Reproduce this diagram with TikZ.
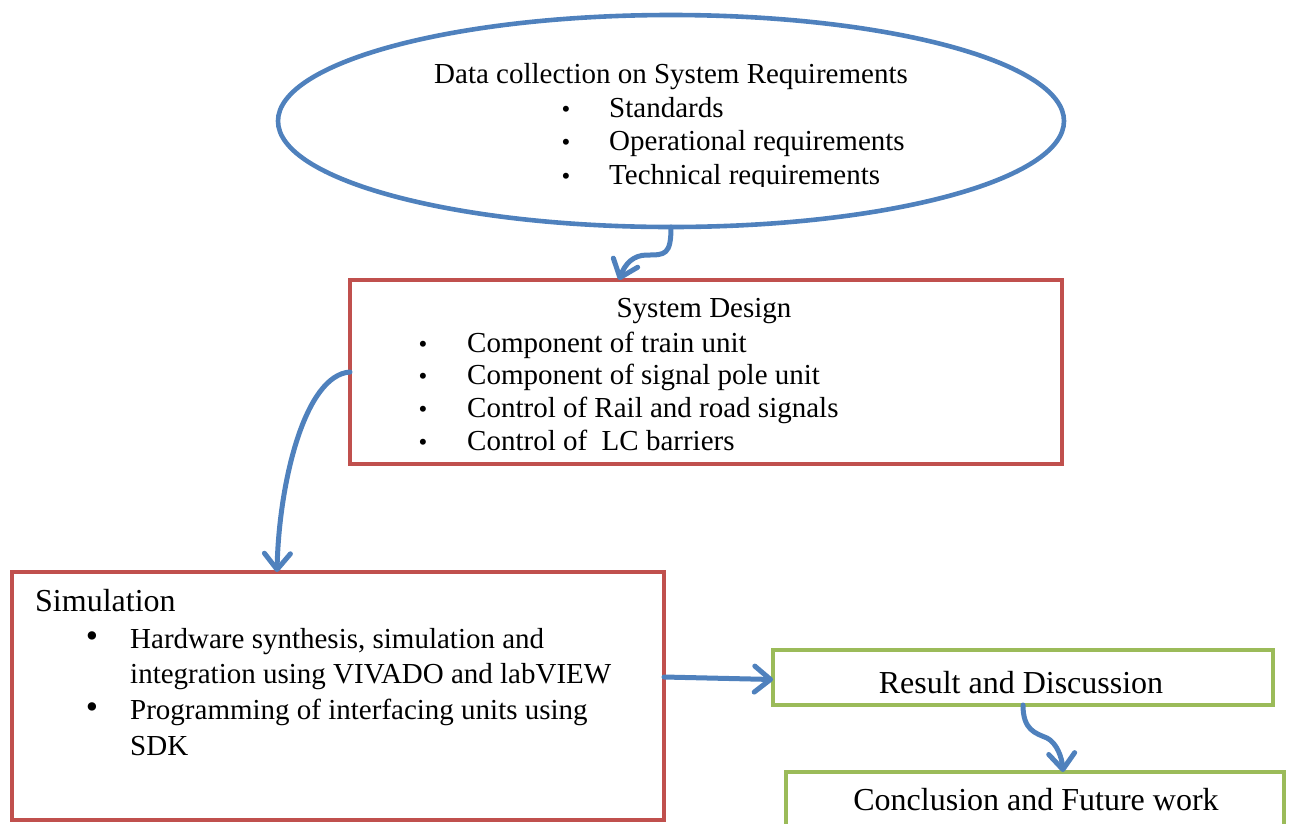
\documentclass[tikz,border=0pt]{standalone}
\usepackage{fontspec}
\setmainfont{Liberation Serif}
\usetikzlibrary{arrows.meta,shapes.geometric,calc}
\definecolor{flowblue}{HTML}{4F81BD}
\definecolor{flowred}{HTML}{C0504D}
\definecolor{flowgreen}{HTML}{9BBB59}
\begin{document}
\begin{tikzpicture}[x=1pt,y=-1pt,
  frame/.style={draw, line width=4.4pt, inner sep=0pt, outer sep=0pt},
  redbox/.style={frame, draw=flowred},
  greenbox/.style={frame, draw=flowgreen},
  txt/.style={inner sep=0pt, font=\fontsize{29}{34}\selectfont},
  bigtxt/.style={inner sep=0pt, font=\fontsize{32}{36}\selectfont},
  smalldot/.style={inner sep=0pt, font=\fontsize{25}{25}\selectfont},
  bigdot/.style={inner sep=0pt, font=\fontsize{35}{35}\selectfont},
  link/.style={draw=flowblue, line width=5pt, line cap=round, line join=round,
    -{Straight Barb[length=16pt,width=26pt,line cap=round,line join=round]}}]
\useasboundingbox (0,0) rectangle (1290,823);

% requirements ellipse
\node[ellipse, draw=flowblue, line width=4.6pt, inner sep=0pt, outer sep=0pt,
  minimum width=786pt, minimum height=212pt] (req) at (671,121) {};
\begin{scope}
  \clip (300,40) rectangle (1040,186);
  \node[txt, anchor=base] (reqhead) at (671,83) {Data collection on System Requirements};
  \node[smalldot, anchor=base] (reqdota) at (566,117) {\textbullet};
  \node[smalldot, anchor=base] (reqdotb) at (566,150) {\textbullet};
  \node[smalldot, anchor=base] (reqdotc) at (566,184) {\textbullet};
  \node[txt, anchor=base west] (reqa) at (609,117) {Standards};
  \node[txt, anchor=base west] (reqb) at (609,150) {Operational requirements};
  \node[txt, anchor=base west] (reqc) at (609,184) {Technical requirements};
\end{scope}

% system design box
\node[redbox, minimum width=712pt, minimum height=184pt] (design) at (706,372) {};
\node[txt, anchor=base] (designhead) at (704,317) {System Design};
\foreach \i/\y/\t in {a/352/Component of train unit,
                      b/384/Component of signal pole unit,
                      c/417/Control of Rail and road signals,
                      d/450/Control of \ LC barriers}{
  \node[smalldot, anchor=base] (designdot\i) at (423,\y) {\textbullet};
  \node[txt, anchor=base west] (design\i) at (467,\y) {\t};
}

% simulation box
\node[redbox, minimum width=652pt, minimum height=248pt] (sim) at (338,696) {};
\node[bigtxt, anchor=base west] (simhead) at (35,611) {Simulation};
\node[bigdot, anchor=base] (simdota) at (92,647) {\textbullet};
\node[bigdot, anchor=base] (simdotb) at (92,718) {\textbullet};
\node[txt, anchor=base west] (sima) at (130,648) {Hardware synthesis, simulation and};
\node[txt, anchor=base west] (simb) at (130,683) {integration using VIVADO and labVIEW};
\node[txt, anchor=base west] (simc) at (130,719) {Programming of interfacing units using};
\node[txt, anchor=base west] (simd) at (130,755) {SDK};

% result and conclusion boxes
\node[greenbox, minimum width=500pt, minimum height=55pt] (result) at (1023,677.5) {};
\node[bigtxt, anchor=base] (resulttxt) at (1021,693) {Result and Discussion};
\node[greenbox, minimum width=498pt, minimum height=80pt] (conc) at (1035,812) {};
\node[bigtxt, anchor=base] (conctxt) at (1036,810) {Conclusion and Future work};

% connectors
\draw[link] (req.south) .. controls +(0,28) and +(18,0) .. ($(req.south)+(-24,28)$)
  .. controls +(-14,0) and +(6,-16) .. ([xshift=-87pt]design.north);
\draw[link] (design.west) .. controls +(-45,3) and +(2,-90) .. ([xshift=-61pt]sim.north);
\draw[link] ([yshift=19pt]sim.east) -- ([yshift=-2pt]result.west);
\draw[link] (result.south) .. controls +(0,25) and +(-12,-5) .. ($(result.south)+(24,33)$)
  .. controls +(10,5) and +(-1,-14) .. ([xshift=28pt]conc.north);
\end{tikzpicture}
\end{document}
